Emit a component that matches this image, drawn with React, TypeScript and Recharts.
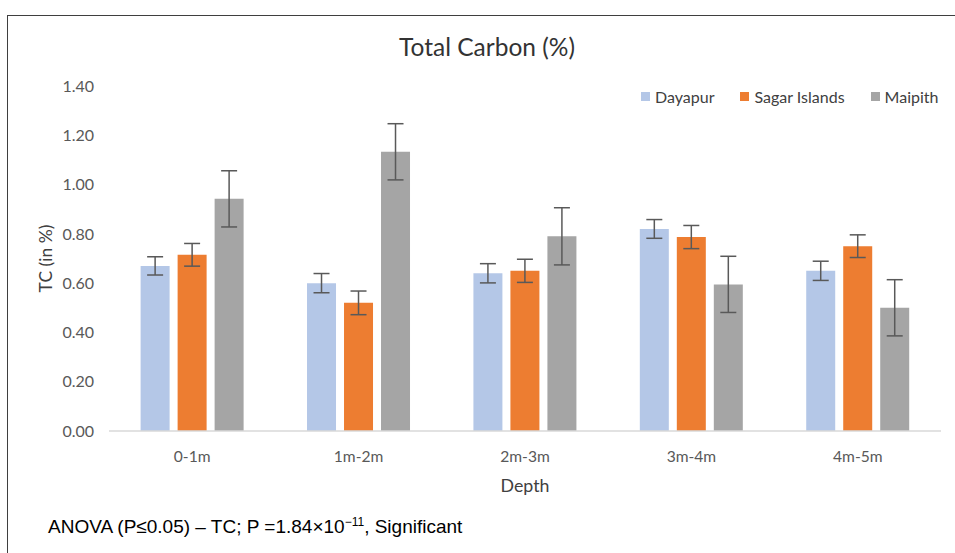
import { BarChart, Bar, XAxis, YAxis, ErrorBar } from "recharts";

const depths = ["0-1m", "1m-2m", "2m-3m", "3m-4m", "4m-5m"];

const dayapur = [0.67, 0.6, 0.64, 0.82, 0.65];
const dayapurErr = [0.037, 0.039, 0.039, 0.038, 0.039];

const sagar = [0.715, 0.52, 0.65, 0.787, 0.75];
const sagarErr = [0.046, 0.048, 0.047, 0.047, 0.046];

const maipith = [0.942, 1.133, 0.79, 0.595, 0.5];
const maipithErr = [0.114, 0.114, 0.116, 0.114, 0.114];

const yTicks = [0, 0.2, 0.4, 0.6, 0.8, 1.0, 1.2, 1.4];

const series = [
  { key: "dayapur", name: "Dayapur", color: "#B4C7E7" },
  { key: "sagar", name: "Sagar Islands", color: "#ED7D31" },
  { key: "maipith", name: "Maipith", color: "#A5A5A5" },
];

const data = depths.map((depth, i) => ({
  depth,
  dayapur: dayapur[i],
  dayapurErr: dayapurErr[i],
  sagar: sagar[i],
  sagarErr: sagarErr[i],
  maipith: maipith[i],
  maipithErr: maipithErr[i],
}));

const FONT = "Lato, 'Open Sans', sans-serif";

export default function App() {
  return (
    <div
      style={{
        position: "absolute",
        left: 0,
        top: 0,
        width: 955,
        height: 553,
        background: "#fff",
        overflow: "hidden",
        fontFamily: FONT,
      }}
    >
      {/* frame */}
      <div
        style={{
          position: "absolute",
          left: 7,
          top: 15,
          width: 1000,
          height: 600,
          borderTop: "1.5px solid #3f3f3f",
          borderLeft: "1.5px solid #3f3f3f",
        }}
      />

      <div
        style={{
          position: "absolute",
          left: 0,
          width: 974,
          top: 32,
          textAlign: "center",
          fontSize: 24.5,
          color: "#333",
        }}
      >
        Total Carbon (%)
      </div>

      {/* legend */}
      <div
        style={{
          position: "absolute",
          top: 87,
          left: 641,
          width: 320,
          display: "flex",
          whiteSpace: "nowrap",
          fontSize: 16,
          color: "#404040",
        }}
      >
        {series.map((s) => (
          <div
            key={s.key}
            style={{ display: "flex", alignItems: "center", marginRight: 26, flexShrink: 0 }}
          >
            <span
              style={{
                display: "inline-block",
                width: 9,
                height: 9,
                background: s.color,
                marginRight: 5,
              }}
            />
            {s.name}
          </div>
        ))}
      </div>

      <div style={{ position: "absolute", left: 0, top: 0 }}>
        <BarChart
          width={955}
          height={553}
          data={data}
          margin={{ top: 86, right: 14, bottom: 62, left: 0 }}
          barCategoryGap="19%"
          barGap={8}
        >
          <XAxis
            dataKey="depth"
            height={60}
            axisLine={{ stroke: "#D9D9D9", strokeWidth: 1.5 }}
            tickLine={false}
            tickMargin={14}
            tick={{ fill: "#595959", fontSize: 15.6, fontFamily: FONT }}
            label={(props: any) => {
              const vb = props.viewBox;
              return (
                <text
                  x={vb.x + vb.width / 2}
                  y={492}
                  textAnchor="middle"
                  fill="#404040"
                  fontSize={17.8}
                  fontFamily={FONT}
                >
                  Depth
                </text>
              );
            }}
          />
          <YAxis
            width={109}
            domain={[0, 1.4]}
            ticks={yTicks}
            axisLine={false}
            tickLine={false}
            tickMargin={9}
            tickFormatter={(v: number) => v.toFixed(2)}
            tick={{ fill: "#595959", fontSize: 16, fontFamily: FONT }}
            label={(props: any) => {
              const vb = props.viewBox;
              const cy = vb.y + vb.height / 2;
              return (
                <text
                  x={45}
                  y={cy}
                  transform={`rotate(-90 45 ${cy})`}
                  textAnchor="middle"
                  dominantBaseline="central"
                  fill="#404040"
                  fontSize={17.5}
                  fontFamily={FONT}
                >
                  TC (in %)
                </text>
              );
            }}
          />
          {series.map((s) => (
            <Bar key={s.key} dataKey={s.key} name={s.name} fill={s.color} isAnimationActive={false}>
              <ErrorBar
                dataKey={`${s.key}Err`}
                direction="y"
                width={8}
                stroke="#595959"
                strokeWidth={1.5}
                isAnimationActive={false}
              />
            </Bar>
          ))}
        </BarChart>
      </div>

      <div
        style={{
          position: "absolute",
          left: 48,
          top: 516,
          fontSize: 19,
          lineHeight: "22px",
          whiteSpace: "nowrap",
          color: "#000",
          fontFamily: "'Liberation Sans', Arial, sans-serif",
        }}
      >
        ANOVA (P≤0.05) – TC; P =1.84×10
        <span style={{ fontSize: 12, position: "relative", top: -7 }}>−11</span>, Significant
      </div>
    </div>
  );
}
